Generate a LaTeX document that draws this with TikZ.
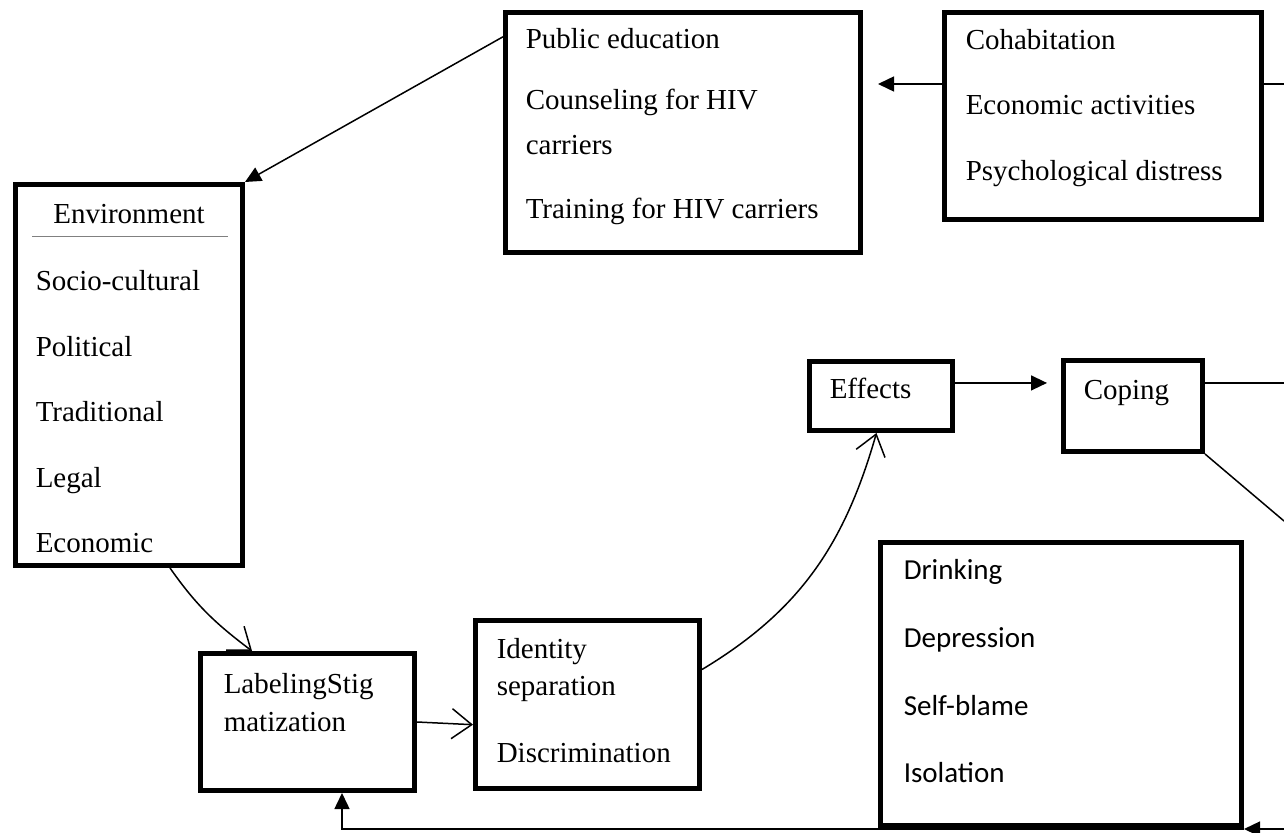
\documentclass[tikz,border=0pt]{standalone}
\usepackage{fontspec}
\setmainfont{Liberation Serif}
\newfontfamily\calibri{Carlito}
\usetikzlibrary{arrows.meta}

\begin{document}
\begin{tikzpicture}[x=1pt,y=-1pt,line width=1.5pt,
  box/.style={draw,line width=5pt,inner sep=0pt},
  txt/.style={inner sep=0pt,anchor=base west,font=\fontsize{29}{35}\selectfont},
  sans/.style={txt,font=\calibri\fontsize{29}{35}\selectfont},
  tri/.style={-{Triangle[length=16pt,width=15pt]}},
  barb/.style={-{Straight Barb[length=20pt,width=30pt]}}]

 \useasboundingbox (0,0) rectangle (1284,832);

 % boxes
 \node[box,minimum width=355,minimum height=240] (pub) at (683,132.5) {};
 \node[box,minimum width=317,minimum height=207] (cohab) at (1103,116) {};
 \node[box,minimum width=227,minimum height=381] (env) at (129,375) {};
 \node[box,minimum width=143,minimum height=69] (effects) at (881,396) {};
 \node[box,minimum width=139,minimum height=91] (coping) at (1133,406) {};
 \node[box,minimum width=361,minimum height=283] (drink) at (1061,684) {};
 \node[box,minimum width=214,minimum height=137] (lab) at (307.5,722) {};
 \node[box,minimum width=224,minimum height=168] (ident) at (587.5,704.5) {};

 % texts
 \foreach \t/\y [count=\i] in {Public education/49,Counseling for HIV/110,carriers/154,Training for HIV carriers/218}
  \node[txt] (pub-\i) at (525,\y) {\t};
 \foreach \t [count=\i] in {Cohabitation,Economic activities,Psychological distress}
  \node[txt] (cohab-\i) at (965,-16+65.5*\i) {\t};
 \node[txt,anchor=base] (envtitle) at (129,223) {Environment};
 \draw[gray,line width=1pt] (32,236) -- (228,236);
 \foreach \t [count=\i] in {Socio-cultural,Political,Traditional,Legal,Economic}
  \node[txt] (env-\i) at (35,225+65.5*\i) {\t};
 \node[txt] (effects-1) at (829,398) {Effects};
 \node[txt] (coping-1) at (1083,399) {Coping};
 \foreach \t [count=\i] in {Drinking,Depression,Self-blame,Isolation}
  \node[sans] (drink-\i) at (903,512+67.7*\i) {\t};
 \foreach \t/\y [count=\i] in {LabelingStig/693,matization/731}
  \node[txt] (lab-\i) at (223,\y) {\t};
 \foreach \t/\y [count=\i] in {Identity/658,separation/695,Discrimination/762}
  \node[txt] (ident-\i) at (496,\y) {\t};

 % loose ends
 \coordinate (cohR) at (1284,84);
 \coordinate (copR) at (1284,383);
 \coordinate (copD) at (1284,521);
 \coordinate (botR) at (1284,829);
 \coordinate (loopL) at (342,829);

 % connectors
 \draw[tri,shorten >=15pt] (cohab.west |- cohR) -- (pub.east |- cohR);
 \draw (cohab.east |- cohR) -- (cohR);
 \draw[tri] (pub.152) -- (env.north east);
 \draw[barb] (env.-78) to[out=-55,in=143] (lab.128);
 \draw[barb] (lab.east) -- (ident.190);
 \draw[barb] (ident.17) to[out=31,in=-106] (effects.-97);
 \draw[tri,shorten >=14pt] (effects.10) -- (effects.10 -| coping.west);
 \draw (coping.east |- copR) -- (copR);
 \draw (coping.south east) -- (copD);
 \draw[tri] (botR) -- (botR -| drink.east);
 \draw[tri] (botR -| drink.east) -- (loopL) -- (loopL |- lab.south);
\end{tikzpicture}
\end{document}
